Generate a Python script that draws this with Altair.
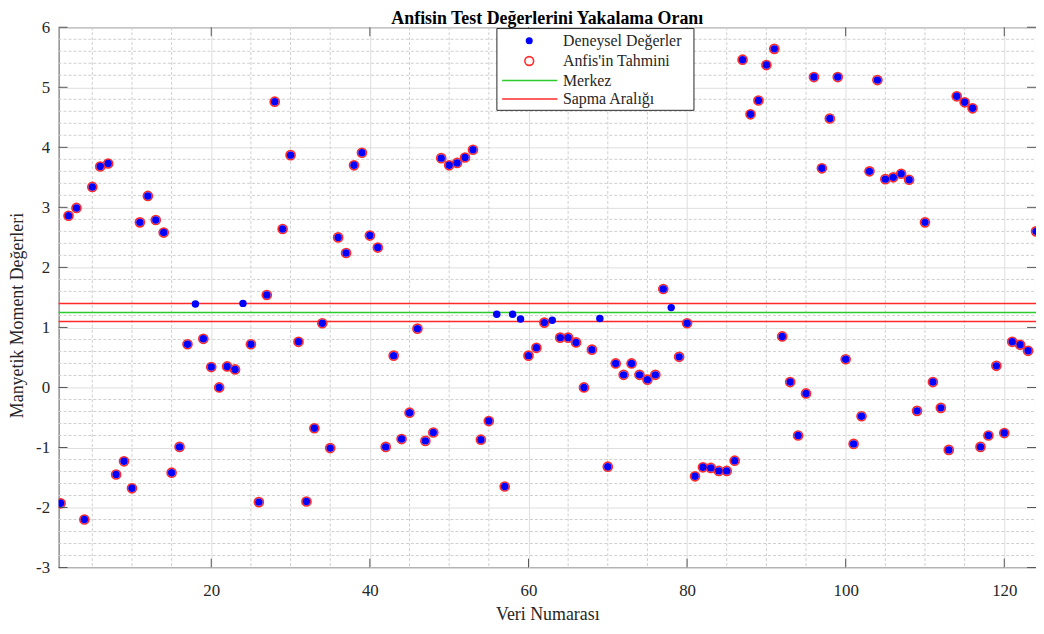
import altair as alt
import pandas as pd

# ---------------- data ----------------
veri_no = list(range(1, 125))
deneysel = [
    -1.93, 2.86, 2.99, -2.20, 3.34, 3.68, 3.73, -1.45, -1.23, -1.68,    # 1-10
    2.75, 3.19, 2.79, 2.58, -1.42, -0.99, 0.72, 1.39, 0.81, 0.34,       # 11-20
    0.00, 0.35, 0.30, 1.40, 0.72, -1.91, 1.54, 4.76, 2.64, 3.87,        # 21-30
    0.76, -1.90, -0.68, 1.07, -1.01, 2.50, 2.24, 3.70, 3.91, 2.53,      # 31-40
    2.33, -0.99, 0.53, -0.86, -0.42, 0.98, -0.89, -0.75, 3.82, 3.70,    # 41-50
    3.74, 3.83, 3.96, -0.87, -0.56, 1.22, -1.65, 1.22, 1.14, 0.53,      # 51-60
    0.66, 1.08, 1.12, 0.83, 0.83, 0.75, 0.00, 0.63, 1.15, -1.32,        # 61-70
    0.40, 0.21, 0.40, 0.21, 0.13, 0.21, 1.64, 1.33, 0.51, 1.07,         # 71-80
    -1.48, -1.33, -1.34, -1.39, -1.39, -1.22, 5.46, 4.55, 4.78, 5.37,   # 81-90
    5.64, 0.85, 0.09, -0.80, -0.10, 5.17, 3.65, 4.48, 5.17, 0.47,       # 91-100
    -0.94, -0.48, 3.60, 5.12, 3.47, 3.50, 3.56, 3.46, -0.39, 2.75,      # 101-110
    0.09, -0.34, -1.04, 4.85, 4.75, 4.65, -0.99, -0.80, 0.36, -0.76,    # 111-120
    0.76, 0.71, 0.61, 2.60,                                            # 121-124
]
# points that show no ANFIS circle (inside the deviation band)
tahmin_yok = [18, 24, 56, 58, 59, 63, 69, 78]

merkez = 1.25
sapma_alt = 1.10
sapma_ust = 1.40

x_ticks = [20, 40, 60, 80, 100, 120]
y_ticks = [-3, -2, -1, 0, 1, 2, 3, 4, 5, 6]

baslik = "Anfisin Test Değerlerini Yakalama Oranı"
x_baslik = "Veri Numarası"
y_baslik = "Manyetik Moment Değerleri"
legend_labels = ["Deneysel Değerler", "Anfis'in Tahmini", "Merkez", "Sapma Aralığı"]

# ---------------- layout / style ----------------
W, H = 985, 544.5
FONT = "Liberation Serif"
AX = "#262626"
FRAME = "#555555"
BLUE = "#0000ff"
RED = "#ff2a2a"
GREEN = "#2ccc2c"

xs = alt.Scale(domain=[0.75, 124.0], nice=False, zero=False)
ys = alt.Scale(domain=[-3, 6], nice=False, zero=False)

df = pd.DataFrame({"Veri": veri_no, "Deger": deneysel})
df_anfis = df[~df["Veri"].isin(tahmin_yok)].reset_index(drop=True)

minor_x = [v for v in range(5, 125, 5) if v % 20 != 0]
minor_y = [round(-3 + 0.2 * k, 1) for k in range(1, 45) if (k % 5) != 0]

one = pd.DataFrame({"a": [0]})

hyphen_label = "datum.value < 0 ? '-' + format(-datum.value, 'd') : format(datum.value, 'd')"

x_axis = alt.Axis(values=x_ticks, format="d", grid=True, gridColor="#dedede", domain=False, ticks=False,
                  labelFont=FONT, labelFontSize=17, labelColor=AX, labelPadding=28,
                  labelBaseline="alphabetic", title=x_baslik, titleFont=FONT, titleFontSize=18,
                  titleFontWeight="normal", titleColor=AX, titleBaseline="alphabetic", titleY=52.5)
y_axis = alt.Axis(values=y_ticks, labelExpr=hyphen_label, grid=True, gridColor="#dedede", domain=False,
                  ticks=False, labelFont=FONT, labelFontSize=17, labelColor=AX, labelPadding=9,
                  labelBaseline="middle", title=y_baslik, titleFont=FONT, titleFontSize=18,
                  titleFontWeight="normal", titleColor=AX, titleAngle=270, titleX=-36, titleY=290,
                  titleBaseline="alphabetic", titleAlign="center")

base_grid = alt.Chart(df).mark_point(opacity=0).encode(
    x=alt.X("Veri:Q", scale=xs, axis=x_axis),
    y=alt.Y("Deger:Q", scale=ys, axis=y_axis),
)

minor_vx = alt.Chart(pd.DataFrame({"v": minor_x})).mark_rule(
    color="#cfcfcf", strokeWidth=1, strokeDash=[3, 2]).encode(
    x=alt.X("v:Q", scale=xs), y=alt.value(0), y2=alt.value(H))
minor_hy = alt.Chart(pd.DataFrame({"v": minor_y})).mark_rule(
    color="#cfcfcf", strokeWidth=1, strokeDash=[3, 2]).encode(
    y=alt.Y("v:Q", scale=ys), x=alt.value(0), x2=alt.value(W))

band = alt.Chart(pd.DataFrame({"v": [sapma_alt, sapma_ust]})).mark_rule(
    color=RED, strokeWidth=1.5).encode(y=alt.Y("v:Q", scale=ys), x=alt.value(0), x2=alt.value(W))
center = alt.Chart(pd.DataFrame({"v": [merkez]})).mark_rule(
    color=GREEN, strokeWidth=1.5).encode(y=alt.Y("v:Q", scale=ys), x=alt.value(0), x2=alt.value(W))

anfis = alt.Chart(df_anfis).mark_point(
    shape="circle", filled=False, size=82, stroke=RED, strokeWidth=1.7, opacity=1, clip=True).encode(
    x=alt.X("Veri:Q", scale=xs), y=alt.Y("Deger:Q", scale=ys))
deney = alt.Chart(df).mark_point(
    shape="circle", filled=True, size=56, color=BLUE, opacity=1, clip=True).encode(
    x=alt.X("Veri:Q", scale=xs), y=alt.Y("Deger:Q", scale=ys))

# inward ticks on all four sides
tx = pd.DataFrame({"v": x_ticks})
ty = pd.DataFrame({"v": y_ticks})
tick_b = alt.Chart(tx).mark_rule(color=FRAME, strokeWidth=1).encode(
    x=alt.X("v:Q", scale=xs), y=alt.value(H), y2=alt.value(H - 9))
tick_t = alt.Chart(tx).mark_rule(color=FRAME, strokeWidth=1).encode(
    x=alt.X("v:Q", scale=xs), y=alt.value(0), y2=alt.value(9))
tick_l = alt.Chart(ty).mark_rule(color=FRAME, strokeWidth=1).encode(
    y=alt.Y("v:Q", scale=ys), x=alt.value(0), x2=alt.value(9))
tick_r = alt.Chart(ty).mark_rule(color=FRAME, strokeWidth=1).encode(
    y=alt.Y("v:Q", scale=ys), x=alt.value(W), x2=alt.value(W - 9))

# manual legend box
leg_box = alt.Chart(one).mark_rect(fill="white", stroke=AX, strokeWidth=1).encode(
    x=alt.value(441.7), x2=alt.value(640.3), y=alt.value(1.3), y2=alt.value(83.7))
leg_dot = alt.Chart(one).mark_point(shape="circle", filled=True, size=50, color=BLUE, opacity=1).encode(
    x=alt.value(474.3), y=alt.value(13.7))
leg_circ = alt.Chart(one).mark_point(shape="circle", filled=False, size=78, stroke=RED,
                                     strokeWidth=1.6, opacity=1).encode(
    x=alt.value(474.3), y=alt.value(34.0))
leg_g = alt.Chart(one).mark_rule(color=GREEN, strokeWidth=1.5).encode(
    x=alt.value(447), x2=alt.value(502.7), y=alt.value(53.7))
leg_r = alt.Chart(one).mark_rule(color=RED, strokeWidth=1.5).encode(
    x=alt.value(447), x2=alt.value(502.7), y=alt.value(72.3))
leg_texts = []
for lbl, yy in zip(legend_labels, [13.7, 34.0, 53.7, 72.3]):
    leg_texts.append(alt.Chart(one).mark_text(
        text=lbl, font=FONT, fontSize=16, color=AX, align="left", baseline="middle").encode(
        x=alt.value(508.3), y=alt.value(yy)))

chart = alt.layer(
    base_grid, minor_vx, minor_hy, band, center, anfis, deney,
    tick_b, tick_t, tick_l, tick_r,
    leg_box, leg_dot, leg_circ, leg_g, leg_r, *leg_texts,
).properties(
    width=W, height=H,
    title=alt.TitleParams(baslik, font=FONT, fontSize=18, fontWeight="bold", color="black",
                          anchor="middle", offset=0, dy=10),
    autosize=alt.AutoSizeParams(type="none"),
    padding={"left": 51, "top": 17, "right": 0, "bottom": 58},
).configure_view(stroke=FRAME, strokeWidth=1).configure_axis(
    labelFont=FONT, titleFont=FONT
).configure_title(font=FONT)

chart.save("out.html", embed_options={"renderer": "svg", "actions": False})
